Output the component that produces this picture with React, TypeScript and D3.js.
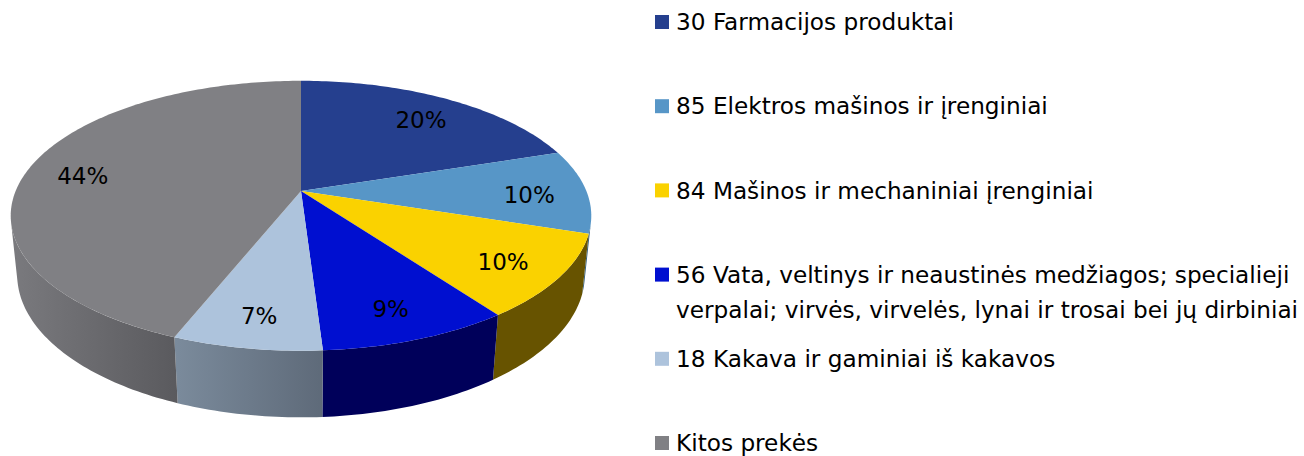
import React from "react";
import * as d3 from "d3";

const categories = [
  "30 Farmacijos produktai",
  "85 Elektros mašinos ir įrenginiai",
  "84 Mašinos ir mechaniniai įrenginiai",
  "56 Vata, veltinys ir neaustinės medžiagos; specialieji|verpalai; virvės, virvelės, lynai ir trosai bei jų dirbiniai",
  "18 Kakava ir gaminiai iš kakavos",
  "Kitos prekės",
];
const values = [20, 10, 10, 9, 7, 44];
const topColors = ["#253f8e", "#5796c7", "#fad200", "#000fd0", "#adc3dc", "#808084"];
const sideFrom = ["#14224d", "#35607f", "#675300", "#00005a", "#7b8b9c", "#7a7a7e"];
const sideTo = ["#14224d", "#35607f", "#675300", "#00005a", "#5e6a79", "#5a5a5e"];

const W = 1304;
const H = 456;
const FONT = "'DejaVu Sans', sans-serif";

// perspective projection of a unit disc
const cx = 301;
const cy = 191;
const alpha = (27.2 * Math.PI) / 180;
const cA = Math.cos(alpha);
const sA = Math.sin(alpha);
const Dist = 4.85;
const F = 1384;
const thick = 0.234;

function proj(u: number, v: number, h: number): [number, number] {
  const depth = Dist - v * cA - h * sA;
  return [cx + (F * u) / depth, cy - (F * (h * cA - v * sA)) / depth];
}
function rim(theta: number, h: number, r = 1): [number, number] {
  return proj(r * Math.sin(theta), -r * Math.cos(theta), h);
}
function arcPts(a0: number, a1: number, h: number): [number, number][] {
  const n = Math.max(2, Math.ceil(((a1 - a0) / (2 * Math.PI)) * 360));
  const pts: [number, number][] = [];
  for (let i = 0; i <= n; i++) pts.push(rim(a0 + ((a1 - a0) * i) / n, h));
  return pts;
}

export default function App() {
  const pie = d3.pie<number>().sort(null).startAngle(0).endAngle(2 * Math.PI);
  const arcs = pie(values);
  const visA = Math.acos(-1 / (Dist * cA));
  const visB = 2 * Math.PI - visA;
  const line = d3.line();
  const total = d3.sum(values);
  const fmt = d3.format(".0%");

  const legendY = d3.scaleLinear().domain([0, 5]).range([22, 443]);

  return (
    <svg width={W} height={H} style={{ position: "absolute", left: 0, top: 0 }}>
      <defs>
        {arcs.map((a, i) => (
          <linearGradient key={i} id={`sg${i}`} x1="0" y1="0" x2="1" y2="0">
            <stop offset="0" stopColor={sideFrom[i]} />
            <stop offset="1" stopColor={sideTo[i]} />
          </linearGradient>
        ))}
      </defs>
      {arcs.map((a, i) => {
        const s = Math.max(a.startAngle, visA);
        const e = Math.min(a.endAngle, visB);
        if (e <= s) return null;
        const top = arcPts(s, e, 0);
        const bot = arcPts(s, e, -thick).reverse();
        return <path key={`s${i}`} d={line([...top, ...bot])! + "Z"} fill={`url(#sg${i})`} />;
      })}
      {arcs.map((a, i) => {
        const pts = [proj(0, 0, 0), ...arcPts(a.startAngle, a.endAngle, 0)];
        return <path key={`t${i}`} d={line(pts)! + "Z"} fill={topColors[i]} />;
      })}
      {arcs.map((a, i) => {
        const mid = (a.startAngle + a.endAngle) / 2;
        const [x, y] = rim(mid, 0, 0.8);
        return (
          <text key={`l${i}`} x={x} y={y + 4} dy="0.35em" textAnchor="middle" fontFamily={FONT} fontSize={23} fill="#000">
            {fmt(a.data / total)}
          </text>
        );
      })}
      {categories.map((c, i) => {
        const y = legendY(i);
        const lines = c.split("|");
        return (
          <g key={`g${i}`}>
            <rect x={655} y={y - 7} width={14} height={14} fill={topColors[i]} />
            {lines.map((ln, j) => (
              <text key={j} x={676} y={y + j * 35} dy="0.35em" fontFamily={FONT} fontSize={23.2} fill="#000">
                {ln}
              </text>
            ))}
          </g>
        );
      })}
    </svg>
  );
}
